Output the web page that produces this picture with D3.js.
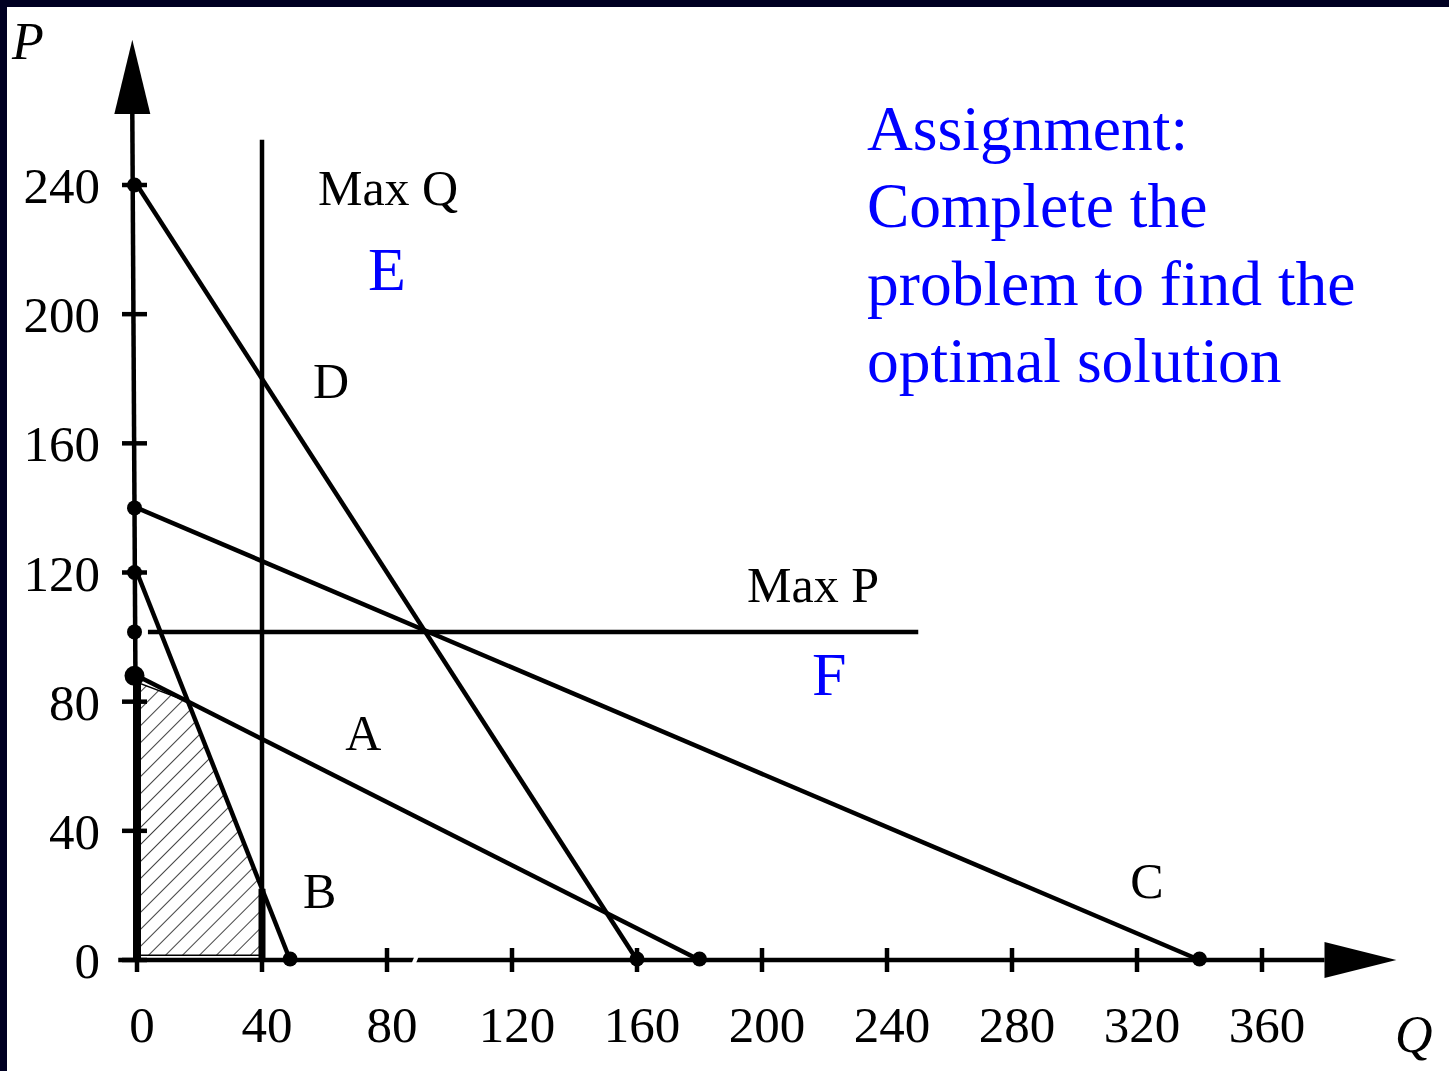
<!DOCTYPE html>
<html>
<head>
<meta charset="utf-8">
<script src="https://cdn.jsdelivr.net/npm/d3@7"></script>
<style>
  html, body { margin: 0; padding: 0; background: #ffffff; }
  svg { display: block; }
</style>
</head>
<body>
<svg id="chart" width="1449" height="1071"></svg>
<script>
// ---- data -------------------------------------------------------------
const xTicks = [0, 40, 80, 120, 160, 200, 240, 280, 320, 360];
const yTicks = [0, 40, 80, 120, 160, 200, 240];

// constraint lines: P-intercept and Q-intercept
const constraintNames = ["A", "B", "C", "D"];
const pIntercepts     = [88, 120, 140, 240];
const qIntercepts     = [180, 49, 340, 160];

// capacity limits
const maxQValue = 40;      // vertical limit
const maxQTop = 254;
const maxPValue = 101.6;   // horizontal limit
const maxPRange = [3.5, 250];

// label anchors (Q, P) in chart units
const lineLabels = [
  { text: "Max Q", q: 57.9, p: 233.8, color: "#000000", size: 50 },
  { text: "E",     q: 73.9, p: 207.6, color: "#0000ff", size: 62 },
  { text: "D",     q: 56.3, p: 174.0, color: "#000000", size: 50 },
  { text: "Max P", q: 195.2, p: 110.9, color: "#000000", size: 50 },
  { text: "F",     q: 216.0, p: 82.0, color: "#0000ff", size: 62 },
  { text: "A",     q: 66.6, p: 65.0,  color: "#000000", size: 50 },
  { text: "B",     q: 53.1, p: 16.1,  color: "#000000", size: 50 },
  { text: "C",     q: 317.8, p: 19.2, color: "#000000", size: 50 }
];

const noteLines = [
  "Assignment:",
  "Complete the",
  "problem to find the",
  "optimal solution"
];

// ---- setup ------------------------------------------------------------
const svg = d3.select("#chart");
const serif = "'Liberation Serif', 'Times New Roman', serif";

const x = d3.scaleLinear().domain([0, 360]).range([137, 1262]);
const y = d3.scaleLinear().domain([0, 240]).range([960, 185]);
const sw = 4.5;

// frame on top and left
svg.append("rect").attr("x", 0).attr("y", 0).attr("width", 1449).attr("height", 7).attr("fill", "#000022");
svg.append("rect").attr("x", 0).attr("y", 0).attr("width", 7).attr("height", 1071).attr("fill", "#000022");

// hatch pattern for the feasible region
const defs = svg.append("defs");
const pat = defs.append("pattern")
  .attr("id", "hatch")
  .attr("patternUnits", "userSpaceOnUse")
  .attr("width", 12).attr("height", 12)
  .attr("patternTransform", "rotate(45)");
pat.append("line")
  .attr("x1", 0).attr("y1", 0).attr("x2", 0).attr("y2", 12)
  .attr("stroke", "#222").attr("stroke-width", 1.7);

// constraint helpers
const lines = constraintNames.map((n, i) => ({ name: n, p0: pIntercepts[i], q0: qIntercepts[i] }));
const byName = Object.fromEntries(lines.map(l => [l.name, l]));
const pAt = (l, q) => l.p0 * (1 - q / l.q0);

// feasible region: below A and B, left of Max Q
const lA = byName.A, lB = byName.B;
const qAB = (lB.p0 - lA.p0) / (lB.p0 / lB.q0 - lA.p0 / lA.q0);
const region = [
  [0, 1.5], [0, pAt(lA, 0) - 2], [qAB, pAt(lA, qAB)],
  [maxQValue, pAt(lB, maxQValue)], [maxQValue, 1.5]
];
svg.append("path")
  .attr("d", d3.line().x(d => x(d[0])).y(d => y(d[1]))(region) + "Z")
  .attr("fill", "url(#hatch)")
  .attr("stroke", "#000").attr("stroke-width", 1.5);

// thick borders on the region's left and right sides
svg.append("line")
  .attr("x1", x(0)).attr("y1", y(0)).attr("x2", x(0)).attr("y2", y(pAt(lA, 0) - 2))
  .attr("stroke", "#000").attr("stroke-width", 8);
svg.append("line")
  .attr("x1", x(maxQValue)).attr("y1", y(0)).attr("x2", x(maxQValue)).attr("y2", y(pAt(lB, maxQValue)))
  .attr("stroke", "#000").attr("stroke-width", 7);

// ---- axes -------------------------------------------------------------
const ink = "#000";
// P axis (leans slightly toward the top)
svg.append("line")
  .attr("x1", x(0)).attr("y1", y(0))
  .attr("x2", x(-1.5)).attr("y2", y(262))
  .attr("stroke", ink).attr("stroke-width", sw);
svg.append("path")
  .attr("d", `M${x(-1.5)},${y(285)} L${x(-1.5) - 18},${y(262)} L${x(-1.5) + 18},${y(262)} Z`)
  .attr("fill", ink);

// Q axis
svg.append("line")
  .attr("x1", x(-6)).attr("y1", y(0))
  .attr("x2", x(380)).attr("y2", y(0))
  .attr("stroke", ink).attr("stroke-width", sw);
svg.append("path")
  .attr("d", `M${x(403)},${y(0)} L${x(380)},${y(0) - 18} L${x(380)},${y(0) + 18} Z`)
  .attr("fill", ink);

// small break in the Q axis
svg.append("line")
  .attr("x1", x(88.2)).attr("y1", y(0) + 6)
  .attr("x2", x(89.8)).attr("y2", y(0) - 6)
  .attr("stroke", "#fff").attr("stroke-width", 4);

// ticks
svg.selectAll(".xtick").data(xTicks).join("line")
  .attr("x1", d => x(d)).attr("x2", d => x(d))
  .attr("y1", y(0) - 12).attr("y2", y(0) + 12)
  .attr("stroke", ink).attr("stroke-width", sw);
svg.selectAll(".ytick").data(yTicks).join("line")
  .attr("x1", 122).attr("x2", 147)
  .attr("y1", d => y(d)).attr("y2", d => y(d))
  .attr("stroke", ink).attr("stroke-width", sw);

// tick labels
svg.selectAll(".xlab").data(xTicks).join("text")
  .attr("x", d => x(d) + 5).attr("y", 1042)
  .attr("text-anchor", "middle")
  .attr("font-family", serif).attr("font-size", 51)
  .text(d => d);
svg.selectAll(".ylab").data(yTicks).join("text")
  .attr("x", 100).attr("y", d => y(d) + 18)
  .attr("text-anchor", "end")
  .attr("font-family", serif).attr("font-size", 51)
  .text(d => d);

// axis titles
svg.append("text").attr("x", 12).attr("y", 59)
  .attr("font-family", serif).attr("font-style", "italic").attr("font-size", 52)
  .text("P");
svg.append("text").attr("x", 1395).attr("y", 1052)
  .attr("font-family", serif).attr("font-style", "italic").attr("font-size", 52)
  .text("Q");

// ---- constraint lines ---------------------------------------------------
svg.selectAll(".cline").data(lines).join("line")
  .attr("x1", x(0)).attr("y1", d => y(d.p0))
  .attr("x2", d => x(d.q0)).attr("y2", y(0))
  .attr("stroke", ink).attr("stroke-width", sw);

// Max Q and Max P limits
svg.append("line")
  .attr("x1", x(maxQValue)).attr("x2", x(maxQValue))
  .attr("y1", y(0)).attr("y2", y(maxQTop))
  .attr("stroke", ink).attr("stroke-width", sw);
svg.append("line")
  .attr("x1", x(maxPRange[0])).attr("x2", x(maxPRange[1]))
  .attr("y1", y(maxPValue)).attr("y2", y(maxPValue))
  .attr("stroke", ink).attr("stroke-width", sw);

// intercept dots
const pDots = pIntercepts.concat([maxPValue]);
svg.selectAll(".pdot").data(pDots).join("circle")
  .attr("cx", x(-0.8)).attr("cy", d => y(d))
  .attr("r", d => d === 88 ? 10 : 7.5)
  .attr("fill", ink);
svg.selectAll(".qdot").data(qIntercepts).join("circle")
  .attr("cx", d => x(d)).attr("cy", y(0) - 1)
  .attr("r", 7.5)
  .attr("fill", ink);

// ---- labels -----------------------------------------------------------
svg.selectAll(".lbl").data(lineLabels).join("text")
  .attr("x", d => x(d.q)).attr("y", d => y(d.p))
  .attr("font-family", serif).attr("font-size", d => d.size)
  .attr("fill", d => d.color)
  .text(d => d.text);

svg.selectAll(".note").data(noteLines).join("text")
  .attr("x", 867).attr("y", (d, i) => 150 + i * 77.3)
  .attr("font-family", serif).attr("font-size", 63.5)
  .attr("fill", "#0000ff")
  .text(d => d);
</script>
</body>
</html>
